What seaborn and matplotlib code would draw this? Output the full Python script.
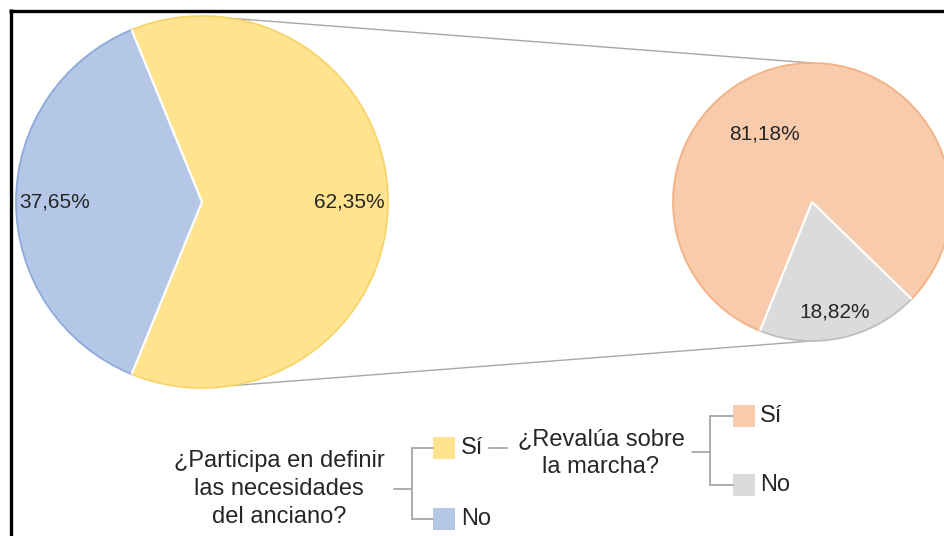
import numpy as np
import matplotlib
matplotlib.use("Agg")
import matplotlib.pyplot as plt
from matplotlib.patches import Arc, Rectangle
import seaborn as sns

# ---------------- data ----------------
main_labels = ["Sí", "No"]
main_values = [62.35, 37.65]
sub_labels = ["Sí", "No"]
sub_values = [81.18, 18.82]
questions = ["¿Participa en definir\nlas necesidades\ndel anciano?",
             "¿Revalúa sobre\nla marcha?"]

main_colors = sns.color_palette(["#FFE38F", "#B4C7E7"])
main_edges = ["#F7D46A", "#8EAADB"]
sub_colors = sns.color_palette(["#F8CBAD", "#DBDBDB"])
sub_edges = ["#F4B183", "#BFBFBF"]

sns.set_theme(style="white")
plt.rcParams["font.family"] = ["Liberation Sans", "DejaVu Sans"]

W, H = 944, 536
fig = plt.figure(figsize=(W / 100, H / 100), dpi=100)
ax = fig.add_axes([0, 0, 1, 1])


def Y(y):
    return H - y


def fmt(p):
    return f"{p:.2f}%".replace(".", ",")


TXT = "#262626"
FS = 15
LFS = 17


def draw_pie(values, colors, edges, center, radius, startangle, pctdist):
    wedges, _, autotexts = ax.pie(
        values, colors=colors, startangle=startangle, counterclock=True,
        center=center, radius=radius, autopct=fmt, pctdistance=pctdist,
        textprops=dict(fontsize=FS, color=TXT),
        wedgeprops=dict(linewidth=0))
    for w, ec in zip(wedges, edges):
        ax.add_patch(Arc(w.center, 2 * w.r, 2 * w.r, theta1=w.theta1,
                         theta2=w.theta2, color=ec, lw=1.3, zorder=3))
    for w in wedges:
        t = np.deg2rad(w.theta1)
        cx, cy = w.center
        ax.plot([cx, cx + w.r * np.cos(t)], [cy, cy + w.r * np.sin(t)],
                color="white", lw=1.6, zorder=4, solid_capstyle="butt")
    return wedges, autotexts


c1, r1 = (202, Y(202)), 186
c2, r2 = (812, Y(202)), 139

w1, a1 = draw_pie(main_values, main_colors, main_edges, c1, r1,
                  -main_values[0] * 1.8, 0.79)
w2, a2 = draw_pie(sub_values, sub_colors, sub_edges, c2, r2,
                  -44.25, 0.81)
# manual label position for the large wedge of the second pie
ang = np.deg2rad(124.8)
a2[0].set_position((c2[0] + 0.6 * r2 * np.cos(ang), c2[1] + 0.6 * r2 * np.sin(ang)))

# connector lines
ca = np.deg2rad(81)
for s in (1, -1):
    ax.plot([c1[0] + r1 * np.cos(ca), c2[0]],
            [c1[1] + s * r1 * np.sin(ca), c2[1] + s * r2],
            color="#A6A6A6", lw=1.0, zorder=1)

# ---------------- legend tree ----------------
LC = "#A6A6A6"
LW = 1.3
SQ = 22
# question 1
ax.text(279, Y(489), questions[0], ha="center", va="center", fontsize=LFS,
        color=TXT, linespacing=1.38)
ax.plot([394, 412], [Y(489), Y(489)], color=LC, lw=LW)
ax.plot([412, 412], [Y(448), Y(519)], color=LC, lw=LW)
ax.plot([412, 433], [Y(448), Y(448)], color=LC, lw=LW)
ax.plot([412, 433], [Y(519), Y(519)], color=LC, lw=LW)
ax.add_patch(Rectangle((433, Y(459)), SQ, SQ, facecolor=main_colors[0],
                       edgecolor="none"))
ax.add_patch(Rectangle((433, Y(530)), SQ, SQ, facecolor=main_colors[1],
                       edgecolor="none"))
ax.text(461, Y(448), main_labels[0], ha="left", va="center", fontsize=LFS, color=TXT)
ax.text(461, Y(519), main_labels[1], ha="left", va="center", fontsize=LFS, color=TXT)
ax.plot([489, 507], [Y(448), Y(448)], color=LC, lw=LW)

# question 2
ax.text(601, Y(453), questions[1], ha="center", va="center", fontsize=LFS,
        color=TXT, linespacing=1.33)
ax.plot([692, 710], [Y(452), Y(452)], color=LC, lw=LW)
ax.plot([710, 710], [Y(416), Y(485)], color=LC, lw=LW)
ax.plot([710, 733], [Y(416), Y(416)], color=LC, lw=LW)
ax.plot([710, 733], [Y(485), Y(485)], color=LC, lw=LW)
ax.add_patch(Rectangle((733, Y(427)), SQ, SQ, facecolor=sub_colors[0],
                       edgecolor="none"))
ax.add_patch(Rectangle((733, Y(496)), SQ, SQ, facecolor=sub_colors[1],
                       edgecolor="none"))
ax.text(760, Y(416), sub_labels[0], ha="left", va="center", fontsize=LFS, color=TXT)
ax.text(760, Y(485), sub_labels[1], ha="left", va="center", fontsize=LFS, color=TXT)

# frame (left and top visible)
ax.plot([10.5, 10.5], [Y(9), 0], color="black", lw=2.4, solid_capstyle="butt")
ax.plot([9, W], [Y(10.5), Y(10.5)], color="black", lw=2.4, solid_capstyle="butt")

ax.set_xlim(0, W)
ax.set_ylim(0, H)
ax.set_aspect("equal")
ax.axis("off")
fig.savefig("out.png", dpi=100, facecolor="white")
